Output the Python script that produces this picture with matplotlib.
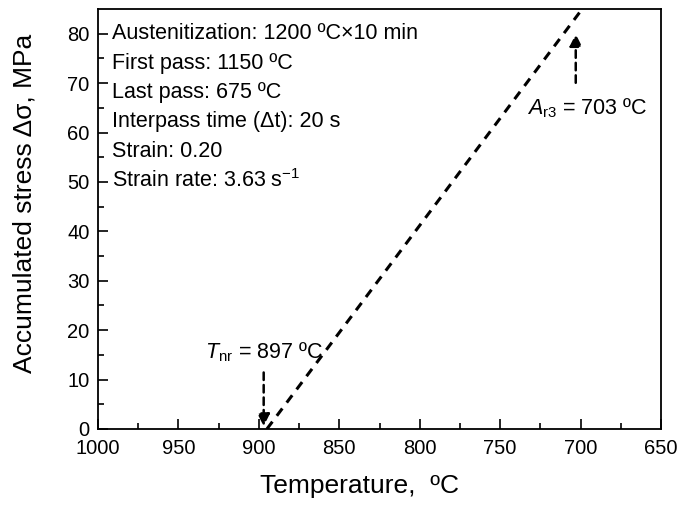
import matplotlib
matplotlib.use("Agg")
from matplotlib import pyplot as plt
import numpy as np

plt.rcParams['font.family'] = ['Liberation Sans', 'DejaVu Sans']
plt.rcParams['mathtext.fontset'] = 'custom'
plt.rcParams['mathtext.rm'] = 'Liberation Sans'
plt.rcParams['mathtext.it'] = 'Liberation Sans:italic'

# accumulated stress line (temperature, stress)
temp = [895, 699]
stress = [0, 85]

tnr = 897
ar3 = 703

info = ["Austenitization: 1200 \u00baC\u00d710 min",
        "First pass: 1150 \u00baC",
        "Last pass: 675 \u00baC",
        "Interpass time (\u0394t): 20 s",
        "Strain: 0.20",
        "Strain rate: 3.63 s$^{\\mathregular{-1}}$"]

fig = plt.figure(figsize=(6.84, 5.07), dpi=100)
ax = fig.add_axes([98/684, 1-429/507, 563/684, 420/507])

ax.plot(temp, stress, color='black', lw=2.2, linestyle=(0, (3, 2.4)))

ax.set_xlim(1000, 650)
ax.set_ylim(0, 85)
ax.set_xticks(np.arange(1000, 649, -50))
ax.set_xticks(np.arange(975, 650, -50), minor=True)
ax.set_yticks(np.arange(0, 81, 10))
ax.set_yticks(np.arange(5, 85, 10), minor=True)
ax.tick_params(which='both', direction='in', top=False, right=False, labelsize=14.5, width=1.2)
ax.tick_params(which='major', length=7)
ax.tick_params(which='minor', length=4)
ax.tick_params(axis='x', which='major', pad=7)
ax.tick_params(axis='y', which='major', pad=6)
for s in ax.spines.values():
    s.set_linewidth(1.3)

ax.set_xlabel("Temperature,  \u00baC", fontsize=19, labelpad=12)
ax.set_ylabel("Accumulated stress \u0394\u03c3, MPa", fontsize=19, labelpad=22)
ax.xaxis.label.set_x(0.464)
ax.yaxis.label.set_y(0.537)

y0 = 80
for i, t in enumerate(info):
    ax.text(991, y0 - i * 5.95, t, fontsize=15.5, va='center', ha='left')

# Tnr arrow
ax.annotate("", xy=(tnr, 0), xytext=(tnr, 12),
            arrowprops=dict(arrowstyle='-|>', color='black', lw=1.8,
                            linestyle=(0, (3, 2)), mutation_scale=18))
ax.text(tnr, 15.5, "$\\mathit{T}_{\\mathregular{nr}}$ = 897 \u00baC", fontsize=15.5,
        ha='center', va='center')

# Ar3 arrow
ax.annotate("", xy=(ar3, 80.5), xytext=(ar3, 69.5),
            arrowprops=dict(arrowstyle='-|>', color='black', lw=1.8,
                            linestyle=(0, (3, 2)), mutation_scale=18))
ax.text(733, 65, "$\\mathit{A}_{\\mathregular{r3}}$ = 703 \u00baC", fontsize=15.5,
        ha='left', va='center')

fig.savefig("out.png", dpi=100)
